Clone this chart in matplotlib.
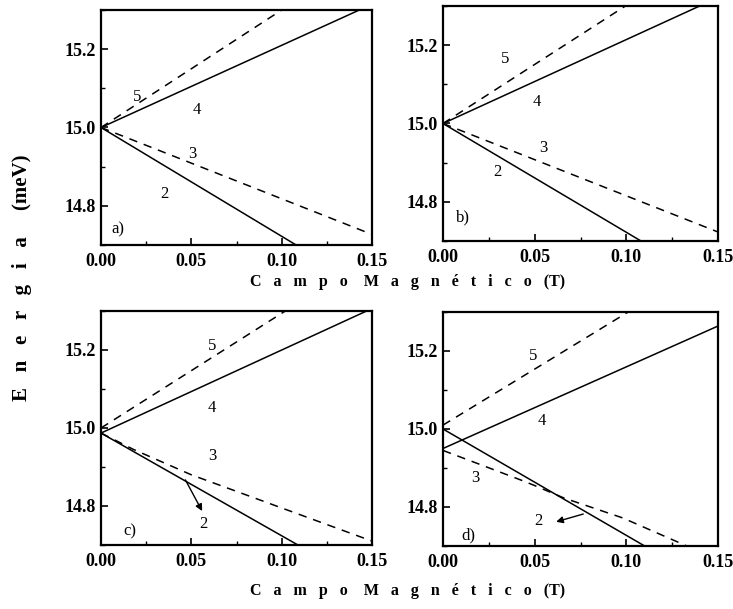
import matplotlib
matplotlib.use("Agg")
import matplotlib.pyplot as plt
from matplotlib.ticker import MultipleLocator, FormatStrFormatter

plt.rcParams['font.family'] = ['Liberation Serif', 'DejaVu Serif']

W, H = 733, 609

# line data per panel: (B values, E values)
panels = {
    'a': {
        'l5': ([0.0, 0.100], [15.0, 15.30]),
        'l4': ([0.0, 0.143], [15.0, 15.30]),
        'l3': ([0.0, 0.150], [15.0, 14.727]),
        'l2': ([0.0, 0.108], [15.0, 14.70]),
    },
    'b': {
        'l5': ([0.0, 0.0995], [15.0, 15.30]),
        'l4': ([0.0, 0.140], [15.0, 15.30]),
        'l3': ([0.0, 0.150], [15.0, 14.723]),
        'l2': ([0.0, 0.108], [15.0, 14.70]),
    },
    'c': {
        'l5': ([0.0, 0.102], [15.0, 15.30]),
        'l4': ([0.0, 0.147], [14.987, 15.30]),
        'l3': ([0.0, 0.018, 0.050, 0.100, 0.150], [14.987, 14.945, 14.880, 14.795, 14.71]),
        'l2': ([0.0, 0.109], [14.987, 14.70]),
    },
    'd': {
        'l5': ([0.0, 0.101], [15.01, 15.30]),
        'l4': ([0.0, 0.150], [14.95, 15.264]),
        'l3': ([0.0, 0.018, 0.042, 0.050, 0.066, 0.098, 0.133],
               [14.945, 14.913, 14.870, 14.855, 14.823, 14.772, 14.70]),
        'l2': ([0.0, 0.110], [15.0, 14.70]),
    },
}

# number labels: text -> (B, E)
labels = {
    'a': {'5': (0.020, 15.077), '4': (0.053, 15.044), '3': (0.0505, 14.933), '2': (0.035, 14.83), 'a)': (0.0095, 14.74)},
    'b': {'5': (0.034, 15.164), '4': (0.051, 15.054), '3': (0.0547, 14.938), '2': (0.0295, 14.877), 'b)': (0.011, 14.76)},
    'c': {'5': (0.0615, 15.21), '4': (0.0615, 15.051), '3': (0.0615, 14.928), '2': (0.0566, 14.754), 'c)': (0.016, 14.736)},
    'd': {'5': (0.049, 15.187), '4': (0.054, 15.02), '3': (0.0175, 14.874), '2': (0.052, 14.764), 'd)': (0.0137, 14.726)},
}

# arrows: (tail, head)
arrows = {
    'c': ((0.0467, 14.867), (0.056, 14.787)),
    'd': ((0.0765, 14.782), (0.0617, 14.762)),
}

# axes boxes in pixels: left, right, top, bottom
boxes = {
    'a': (101, 372, 10, 245),
    'b': (443, 718, 6, 241),
    'c': (101, 372, 311, 545),
    'd': (443, 718, 312, 546),
}

fig = plt.figure(figsize=(W / 100, H / 100), dpi=100)

for key, (l, r, t, b) in boxes.items():
    ax = fig.add_axes([l / W, 1 - b / H, (r - l) / W, (b - t) / H])
    d = panels[key]
    ax.plot(*d['l4'], color='black', lw=1.1)
    ax.plot(*d['l2'], color='black', lw=1.1)
    ax.plot(*d['l5'], color='black', lw=1.1, dashes=(5.5, 4.5))
    ax.plot(*d['l3'], color='black', lw=1.1, dashes=(5.5, 4.5))
    for txt, (x, y) in labels[key].items():
        ax.text(x, y, txt, fontsize=12, ha='center', va='center')
    if key in arrows:
        tail, head = arrows[key]
        ax.annotate('', xy=head, xytext=tail,
                    arrowprops=dict(arrowstyle='-|>', color='black', lw=1.0,
                                    mutation_scale=10, shrinkA=0, shrinkB=0))
    ax.set_xlim(0, 0.15)
    ax.set_ylim(14.7, 15.3)
    ax.xaxis.set_major_locator(MultipleLocator(0.05))
    ax.xaxis.set_minor_locator(MultipleLocator(0.025))
    ax.yaxis.set_major_locator(MultipleLocator(0.2))
    ax.yaxis.set_minor_locator(MultipleLocator(0.1))
    ax.xaxis.set_major_formatter(FormatStrFormatter('%.2f'))
    ax.yaxis.set_major_formatter(FormatStrFormatter('%.1f'))
    ax.tick_params(which='both', direction='in', top=False, right=False)
    ax.tick_params(which='major', length=5, width=1.2, labelsize=13)
    ax.tick_params(axis='x', which='major', pad=6)
    ax.tick_params(axis='y', which='major', pad=4)
    ax.tick_params(which='minor', length=3, width=1.0)
    for lab in ax.get_xticklabels() + ax.get_yticklabels():
        lab.set_fontweight('bold')
    for s in ax.spines.values():
        s.set_linewidth(1.6)

xlabel = 'C   a   m   p   o    M   a   g   n   é   t   i   c   o   (T)'
fig.text(408 / W, 1 - 282 / H, xlabel, fontsize=11.5, fontweight='bold', ha='center', va='center')
fig.text(408 / W, 1 - 591 / H, xlabel, fontsize=11.5, fontweight='bold', ha='center', va='center')
fig.text(22 / W, 1 - 278 / H, 'E   n   e   r   g   i   a     (meV)', fontsize=15, fontweight='bold',
         rotation=90, ha='center', va='center')

fig.savefig('out.png', dpi=100)
